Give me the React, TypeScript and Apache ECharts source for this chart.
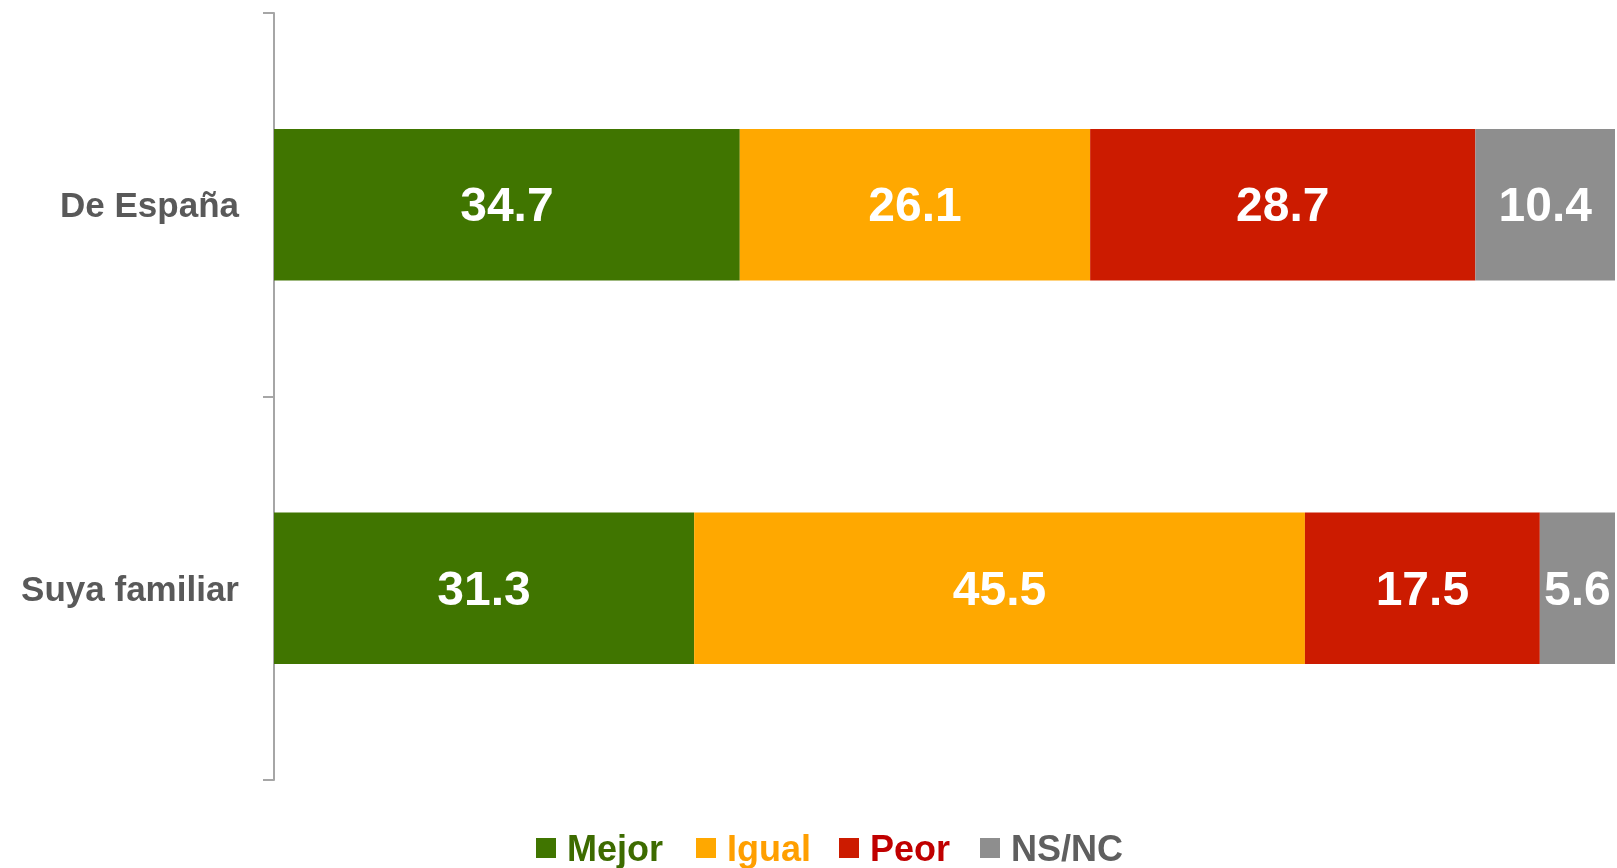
import React, { useEffect, useRef } from "react";
import * as echarts from "echarts";

const categories = ["De España", "Suya familiar"];
const seriesNames = ["Mejor", "Igual", "Peor", "NS/NC"];
const mejor = [34.7, 31.3];
const igual = [26.1, 45.5];
const peor = [28.7, 17.5];
const nsnc = [10.4, 5.6];

const barColors = ["#407500", "#FFA800", "#CC1B00", "#8E8E8E"];
const legendTextColors = ["#3D6B00", "#FF9F00", "#C00000", "#5F5F5F"];
const legendLefts = [536, 696, 839, 980];

export default function App() {
  const ref = useRef<HTMLDivElement>(null);
  useEffect(() => {
    if (!ref.current) return;
    const chart = echarts.init(ref.current, null, { renderer: "svg" });
    const values = [mejor, igual, peor, nsnc];
    const font = "'Liberation Sans', Arial, sans-serif";
    chart.setOption({
      animation: false,
      textStyle: { fontFamily: font },
      grid: { left: 274, right: 2, top: 13, bottom: 88, containLabel: false },
      legend: seriesNames.map((n, i) => ({
        top: 830,
        left: legendLefts[i],
        padding: 0,
        itemWidth: 20,
        itemHeight: 20,
        icon: "rect",
        textStyle: {
          fontSize: 36,
          fontWeight: "bold",
          fontFamily: font,
          color: legendTextColors[i],
          padding: [0, 0, 0, 6],
        },
        data: [n],
      })),
      xAxis: {
        type: "value",
        min: 0,
        max: 99.9,
        show: false,
      },
      yAxis: {
        type: "category",
        data: categories,
        inverse: true,
        axisLine: { show: true, lineStyle: { color: "#A6A6A6", width: 2 } },
        axisTick: { show: true, length: 11, lineStyle: { color: "#A6A6A6", width: 2 } },
        axisLabel: {
          margin: 35,
          color: "#595959",
          fontSize: 35,
          fontWeight: "bold",
          fontFamily: font,
        },
        splitLine: { show: false },
      },
      series: seriesNames.map((n, i) => ({
        name: n,
        type: "bar",
        stack: "total",
        barWidth: "39.5%",
        itemStyle: { color: barColors[i] },
        label: {
          show: true,
          position: "inside",
          color: "#FFFFFF",
          fontSize: 48,
          fontWeight: "bold",
          fontFamily: font,
          formatter: (p: any) => Number(p.value).toFixed(1),
        },
        data: values[i],
      })),
    });
    return () => chart.dispose();
  }, []);
  return (
    <div
      ref={ref}
      style={{ position: "fixed", left: 0, top: 0, width: 1617, height: 868 }}
    />
  );
}
